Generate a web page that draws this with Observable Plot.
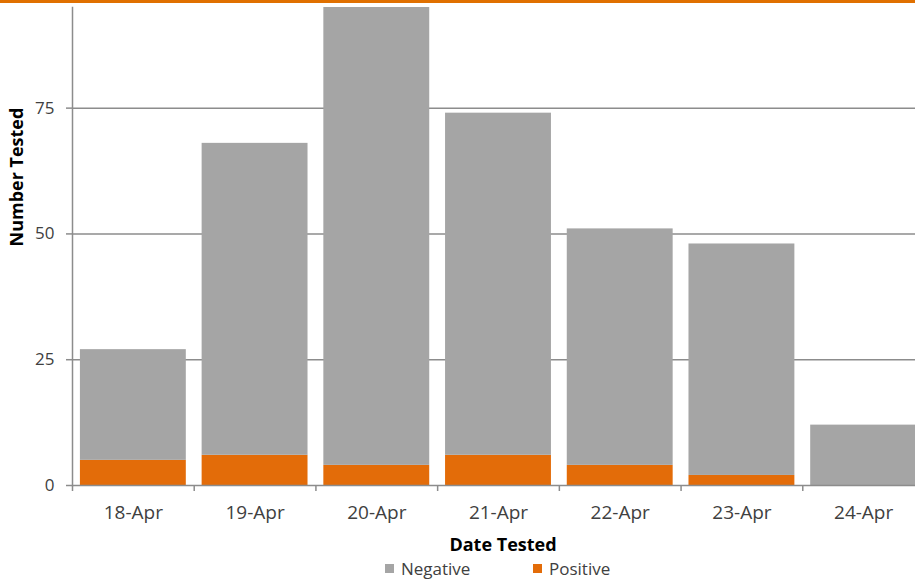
<!DOCTYPE html>
<html>
<head>
<meta charset="utf-8">
<script src="https://cdn.jsdelivr.net/npm/d3@7"></script>
<script src="https://cdn.jsdelivr.net/npm/@observablehq/plot@0.6"></script>
<style>
  html, body { margin: 0; padding: 0; background: #fff; }
  body { width: 915px; height: 580px; overflow: hidden; border-top: 3px solid #e07000; box-sizing: border-box; font-family: "Open Sans", sans-serif; }
  #chart svg { display: block; }
  #legend { position: relative; height: 25px; font-size: 17px; color: #404040; }
  .item { position: absolute; top: 2px; display: flex; align-items: center; }
  .sw { width: 9px; height: 9px; margin-right: 7px; }
</style>
</head>
<body>
<div id="chart"></div>
<div id="legend"></div>
<script>
const dates = ["18-Apr", "19-Apr", "20-Apr", "21-Apr", "22-Apr", "23-Apr", "24-Apr"];
const negative = [22, 62, 91, 68, 47, 46, 12];
const positive = [5, 6, 4, 6, 4, 2, 0];
const series = ["Negative", "Positive"];
const colors = ["#a5a5a5", "#e36c09"];
const yTicks = [0, 25, 50, 75];

const data = dates.flatMap((d, i) => [
  {date: d, status: "Positive", value: positive[i]},
  {date: d, status: "Negative", value: negative[i]}
]);

const gridColor = "#8c8c8c";
const chart = Plot.plot({
  width: 915,
  height: 552,
  marginLeft: 72,
  marginRight: 0,
  marginTop: 4,
  marginBottom: 70,
  style: {fontFamily: "Open Sans, sans-serif", color: "#404040", background: "#fff"},
  x: {domain: dates, range: [72, 924], paddingInner: 0.13, paddingOuter: 0.065, round: false},
  y: {domain: [0, 95]},
  color: {domain: series, range: colors},
  marks: [
    Plot.ruleY(yTicks.slice(1), {stroke: gridColor, strokeWidth: 1.5}),
    Plot.barY(data, {x: "date", y: "value", fill: "status", order: ["Positive", "Negative"]}),
    Plot.ruleY([0], {stroke: gridColor, strokeWidth: 1.5}),
    Plot.frame({anchor: "left", stroke: gridColor, strokeWidth: 1.5}),
    Plot.axisY({ticks: yTicks, tickSize: 6, tickPadding: 12, label: null, fontSize: 17, stroke: gridColor, strokeWidth: 1.5}),
    Plot.axisX({tickSize: 0, tickPadding: 20, label: null, fontSize: 19}),
    Plot.axisX({tickSize: 6, tickFormat: () => "", dx: -60.86, label: null, stroke: gridColor, strokeWidth: 1.5}),
    Plot.text(["Date Tested"], {frameAnchor: "bottom", text: d => d, dy: 65, dx: 9, fontSize: 18, fontWeight: "bold", fill: "#000"}),
    Plot.text(["Number Tested"], {frameAnchor: "left", text: d => d, rotate: -90, dx: -55, fontSize: 18, fontWeight: "bold", fill: "#000"})
  ]
});
document.getElementById("chart").appendChild(chart);

const legend = document.getElementById("legend");
const lefts = [385, 533];
series.forEach((s, i) => {
  const it = document.createElement("div");
  it.className = "item";
  it.style.left = lefts[i] + "px";
  it.innerHTML = `<span class="sw" style="background:${colors[i]}"></span><span>${s}</span>`;
  legend.appendChild(it);
});
</script>
</body>
</html>
